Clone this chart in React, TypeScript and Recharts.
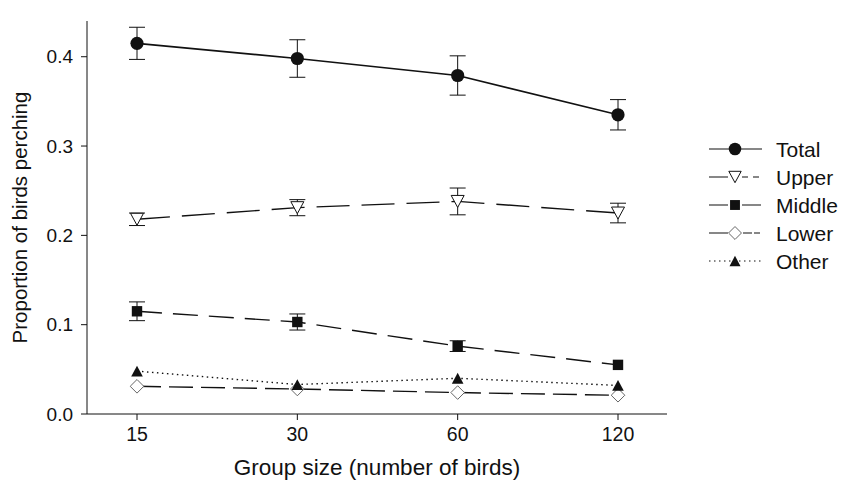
import React from 'react';
import { LineChart, Line, XAxis, YAxis, ErrorBar, Legend } from 'recharts';

// group sizes (number of birds), shown as evenly spaced categories
const groupSizes = ['15', '30', '60', '120'];

// proportion of birds perching, with +/- error
const total = [0.415, 0.398, 0.379, 0.335];
const totalErr = [0.018, 0.021, 0.022, 0.017];
const upper = [0.218, 0.231, 0.238, 0.225];
const upperErr = [0.007, 0.009, 0.015, 0.011];
const middle = [0.115, 0.103, 0.076, 0.055];
const middleErr = [0.0105, 0.009, 0.006, 0];
const lower = [0.031, 0.028, 0.024, 0.021];
const other = [0.048, 0.033, 0.040, 0.032];

const yTicks = [0, 0.1, 0.2, 0.3, 0.4];

const data = groupSizes.map((g, i) => ({
  g,
  total: total[i],
  totalErr: totalErr[i],
  upper: upper[i],
  upperErr: upperErr[i],
  middle: middle[i],
  middleErr: middleErr[i],
  lower: lower[i],
  other: other[i],
}));

const FONT = '"Liberation Sans", Arial, Helvetica, sans-serif';
const INK = '#111';

type Kind = 'circle' | 'triangleDown' | 'square' | 'diamond' | 'triangleUp';

// legendDash: the little sample lines in the key are drawn a bit differently
const series: { key: string; name: string; dash?: string; legendDash?: string; width: number; kind: Kind }[] = [
  { key: 'total', name: 'Total', width: 1.7, kind: 'circle' },
  { key: 'upper', name: 'Upper', dash: '33 12', legendDash: '19 14 6 5 6 10', width: 1.4, kind: 'triangleDown' },
  { key: 'middle', name: 'Middle', dash: '25 11', legendDash: '19 14 19', width: 1.4, kind: 'square' },
  { key: 'lower', name: 'Lower', dash: '24 8', legendDash: '19 15 9 2 6 10', width: 1.4, kind: 'diamond' },
  { key: 'other', name: 'Other', dash: '1.5 3.5', legendDash: '1.5 3.5', width: 1.4, kind: 'triangleUp' },
];

const Marker = ({ kind, cx, cy, s = 1 }: { kind: Kind; cx: number; cy: number; s?: number }) => {
  if (cx == null || cy == null) return null;
  switch (kind) {
    case 'circle':
      return <circle cx={cx} cy={cy} r={6.6 * s} fill={INK} />;
    case 'triangleDown': {
      const w = 6.5 * s, h = 6 * s;
      return (
        <polygon
          points={`${cx - w},${cy - h} ${cx + w},${cy - h} ${cx},${cy + h}`}
          fill="#fff"
          stroke={INK}
          strokeWidth={1}
        />
      );
    }
    case 'square': {
      const h = 5.2 * s;
      return <rect x={cx - h} y={cy - h} width={2 * h} height={2 * h} fill={INK} />;
    }
    case 'diamond': {
      const h = 6.8 * s;
      return (
        <polygon
          points={`${cx},${cy - h} ${cx + h},${cy} ${cx},${cy + h} ${cx - h},${cy}`}
          fill="#fff"
          stroke="#666"
          strokeWidth={1}
        />
      );
    }
    case 'triangleUp': {
      const w = 5.8 * s, h = 5.4 * s;
      return <polygon points={`${cx - w},${cy + h} ${cx + w},${cy + h} ${cx},${cy - h}`} fill={INK} />;
    }
  }
  return null;
};

const renderLegend = () => (
  <svg width={141} height={145} style={{ display: 'block' }}>
    {series.map((s, i) => {
      const y = 14 + i * 28;
      return (
        <g key={s.key}>
          <line x1={9} x2={62} y1={y} y2={y} stroke={INK} strokeWidth={1.2} strokeDasharray={s.legendDash} />
          <Marker kind={s.kind} cx={35} cy={y} s={0.95} />
          <text x={76} y={y} dy="0.36em" fontSize={21} fontFamily={FONT} fill={INK}>
            {s.name}
          </text>
        </g>
      );
    })}
  </svg>
);

const errKeys: Record<string, string> = { total: 'totalErr', upper: 'upperErr', middle: 'middleErr' };

export default function App() {
  return (
    <div style={{ width: 841, height: 484, background: '#fff', fontFamily: FONT }}>
      <style>{'body{margin:0}'}</style>
      <LineChart width={841} height={484} data={data} margin={{ top: 21, right: 174, bottom: 0, left: 0 }}>
        <XAxis
          dataKey="g"
          height={70}
          padding={{ left: 50, right: 49 }}
          tickSize={6}
          tickMargin={7}
          tick={{ fontSize: 19.5, fill: INK, fontFamily: FONT }}
          stroke={INK}
          label={{
            value: 'Group size (number of birds)',
            position: 'insideBottom',
            offset: 9,
            fontSize: 22.5,
            fill: INK,
            fontFamily: FONT,
          }}
        />
        <XAxis xAxisId="top" orientation="top" dataKey="g" height={0} tick={false} tickLine={false} stroke={INK} />
        <YAxis
          width={87}
          domain={[0, 0.44]}
          ticks={yTicks}
          tickFormatter={(v: number) => v.toFixed(1)}
          tickSize={6}
          tickMargin={8}
          tick={{ fontSize: 19, fill: INK, fontFamily: FONT }}
          stroke={INK}
          label={{
            value: 'Proportion of birds perching',
            angle: -90,
            position: 'insideLeft',
            offset: 20,
            fontSize: 20.5,
            fill: INK,
            fontFamily: FONT,
            style: { textAnchor: 'middle' },
          }}
        />
        <YAxis yAxisId="right" orientation="right" width={0} domain={[0, 0.44]} tick={false} tickLine={false} stroke={INK} />
        {series.map((s) => (
          <Line
            key={s.key}
            dataKey={s.key}
            name={s.name}
            stroke={INK}
            strokeWidth={s.width}
            strokeDasharray={s.dash}
            isAnimationActive={false}
            dot={(p: any) => <Marker key={`${s.key}-${p.index}`} kind={s.kind} cx={p.cx} cy={p.cy} />}
            activeDot={false}
          >
            {errKeys[s.key] && (
              <ErrorBar dataKey={errKeys[s.key]} direction="y" width={8} stroke={INK} strokeWidth={1} />
            )}
          </Line>
        ))}
        <Legend
          layout="vertical"
          align="center"
          verticalAlign="middle"
          content={renderLegend}
          wrapperStyle={{ left: 700, top: 135, width: 141 }}
        />
      </LineChart>
    </div>
  );
}
